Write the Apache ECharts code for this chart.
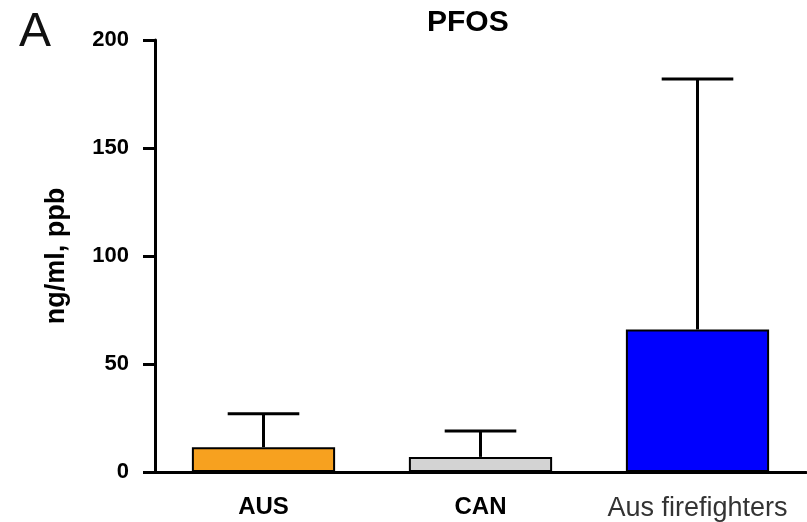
<!DOCTYPE html>
<html>
<head>
<meta charset="utf-8">
<script src="https://cdn.jsdelivr.net/npm/echarts@6/dist/echarts.min.js"></script>
<style>html,body{margin:0;padding:0;background:#fff}#c{width:807px;height:522px}</style>
</head>
<body>
<div id="c"></div>
<script>
const categories = ['AUS', 'CAN', 'Aus firefighters'];
const means = [11.5, 7, 66];
const upperError = [27, 19, 182];
const barColors = ['#F7A11F', '#D3D3D3', '#0000FF'];
const yTicks = [0, 50, 100, 150, 200];

const chart = echarts.init(document.getElementById('c'));
const F = 'Liberation Sans, Arial, Helvetica, sans-serif';
chart.setOption({
  animation: false,
  title: [
    {text: 'A', left: 14, top: 4, textStyle: {fontFamily: F, fontSize: 48, fontWeight: 'normal', color: '#111'}},
    {text: 'PFOS', left: 422, top: 3, textStyle: {fontFamily: F, fontSize: 30, fontWeight: 'bold', color: '#000'}}
  ],
  grid: {left: 155, right: 1, top: 40, bottom: 49, containLabel: false},
  xAxis: {
    type: 'category',
    data: categories,
    axisLine: {lineStyle: {color: '#000', width: 3}},
    axisTick: {alignWithLabel: true, length: 12, lineStyle: {color: '#000', width: 3}},
    axisLabel: {
      margin: 23,
      formatter: function (v) { return v === 'Aus firefighters' ? '{r|' + v + '}' : '{b|' + v + '}'; },
      rich: {
        b: {fontFamily: F, fontSize: 24, fontWeight: 'bold', color: '#000'},
        r: {fontFamily: F, fontSize: 27, fontWeight: 'normal', color: '#333'}
      }
    }
  },
  yAxis: {
    type: 'value',
    min: yTicks[0], max: yTicks[yTicks.length - 1], interval: 50,
    name: 'ng/ml, ppb', nameLocation: 'middle', nameRotate: 90, nameGap: 85,
    nameTextStyle: {fontFamily: F, fontSize: 27, fontWeight: 'bold', color: '#000'},
    axisLine: {show: true, lineStyle: {color: '#000', width: 3}},
    axisTick: {show: true, length: 12, lineStyle: {color: '#000', width: 3}},
    splitLine: {show: false},
    axisLabel: {margin: 26, fontFamily: F, fontSize: 22, fontWeight: 'bold', color: '#000'}
  },
  series: [
    {
      type: 'bar',
      barWidth: '66%',
      data: means.map((v, i) => ({value: v, itemStyle: {color: barColors[i]}})),
      itemStyle: {borderColor: '#000', borderWidth: 2},
      z: 2
    },
    {
      type: 'custom',
      z: 1,
      data: means.map((v, i) => [i, v, upperError[i]]),
      renderItem: function (params, api) {
        const x = api.value(0);
        const base = api.coord([x, api.value(1)]);
        const top = api.coord([x, api.value(2)]);
        const band = api.size([1, 0])[0];
        const half = band * 0.165;
        const style = {stroke: '#000', lineWidth: 3};
        return {
          type: 'group',
          children: [
            {type: 'line', shape: {x1: base[0], y1: base[1], x2: top[0], y2: top[1]}, style: style},
            {type: 'line', shape: {x1: top[0] - half, y1: top[1], x2: top[0] + half, y2: top[1]}, style: style}
          ]
        };
      }
    }
  ]
});
</script>
</body>
</html>
